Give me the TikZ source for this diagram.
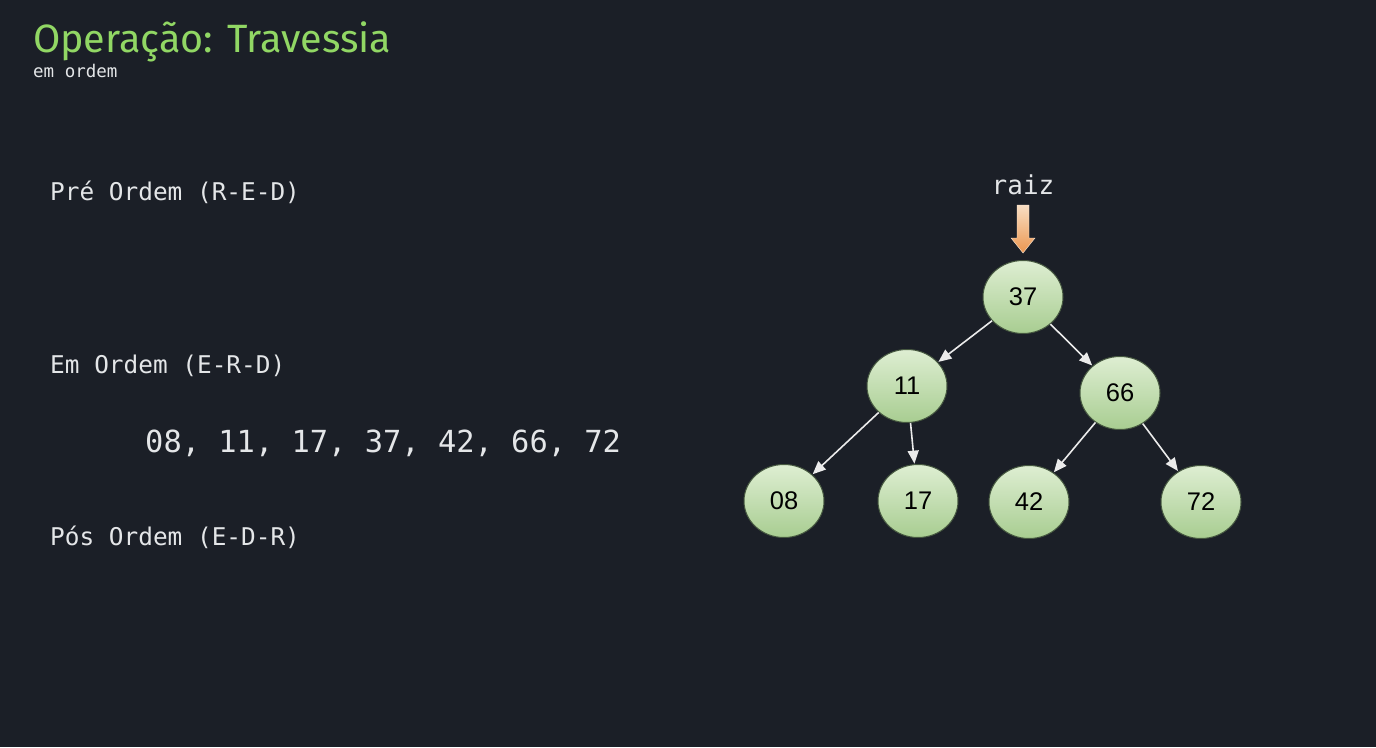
\documentclass[tikz,border=0pt]{standalone}
\usepackage{fontspec}
\setmainfont{Fira Sans}
\setmonofont{DejaVu Sans Mono}
\newfontfamily\numfont{Liberation Sans}
\usetikzlibrary{arrows.meta,shapes.geometric}
\definecolor{bgc}{RGB}{27,31,39}
\definecolor{titlegreen}{RGB}{145,215,100}
\definecolor{txt}{RGB}{228,230,232}
\definecolor{nodetop}{RGB}{222,238,210}
\definecolor{nodebot}{RGB}{168,205,145}
\definecolor{nodeline}{RGB}{70,88,64}
\definecolor{edgec}{RGB}{235,235,235}
\definecolor{arrtop}{RGB}{248,222,195}
\definecolor{arrbot}{RGB}{236,150,80}
\begin{document}
\begin{tikzpicture}[x=1pt,y=-1pt,
  treenode/.style={ellipse, draw=nodeline, line width=1pt, top color=nodetop, bottom color=nodebot,
    minimum width=80pt, minimum height=73pt, inner sep=0pt, font=\numfont\fontsize{25.5}{27}\selectfont, text=black},
  edge/.style={draw=edgec, line width=1.6pt, -{Triangle[length=13pt,width=11pt]}, shorten >=0.5pt},
  monotext/.style={anchor=base west, inner sep=0pt, text=txt, font=\ttfamily\fontsize{24.4}{28}\selectfont}
]
\fill[bgc] (0,0) rectangle (1376,747);
\useasboundingbox (0,0) rectangle (1376,747);

% title
\node[anchor=base west, inner sep=0pt, text=titlegreen, font=\fontsize{39.5}{44}\selectfont] (title) at (33,52) {Operação: Travessia};
\node[anchor=base west, inner sep=0pt, text=txt, font=\ttfamily\fontsize{17.5}{20}\selectfont] (sub) at (33,77) {em ordem};

% left texts
\node[monotext] (pre) at (50,200) {Pré Ordem (R-E-D)};
\node[monotext] (em) at (50,373) {Em Ordem (E-R-D)};
\node[monotext, font=\ttfamily\fontsize{30.4}{34}\selectfont] (seq) at (145,452) {08, 11, 17, 37, 42, 66, 72};
\node[monotext] (pos) at (50,545) {Pós Ordem (E-D-R)};

% tree
\node[treenode] (n37) at (1023,297) {37};
\node[treenode] (n11) at (907,386) {11};
\node[treenode] (n66) at (1120,393) {66};
\node[treenode] (n08) at (784,501) {08};
\node[treenode] (n17) at (918,501) {17};
\node[treenode] (n42) at (1029,502) {42};
\node[treenode] (n72) at (1201,502) {72};

\draw[edge] (n37) -- (n11);
\draw[edge] (n37) -- (n66);
\draw[edge] (n11) -- (n08);
\draw[edge] (n11) -- (n17);
\draw[edge] (n66) -- (n42);
\draw[edge] (n66) -- (n72);

% raiz
\node[anchor=base, inner sep=0pt, text=txt, font=\ttfamily\fontsize{26}{28}\selectfont] (raiz) at (1023,194) {raiz};
\shade[top color=arrtop, bottom color=arrbot, draw=arrtop!60!white, line width=0.4pt]
  (1017,205) -- (1029,205) -- (1029,238) -- (1035,238) -- (1023,253) -- (1011,238) -- (1017,238) -- cycle;
\end{tikzpicture}
\end{document}
